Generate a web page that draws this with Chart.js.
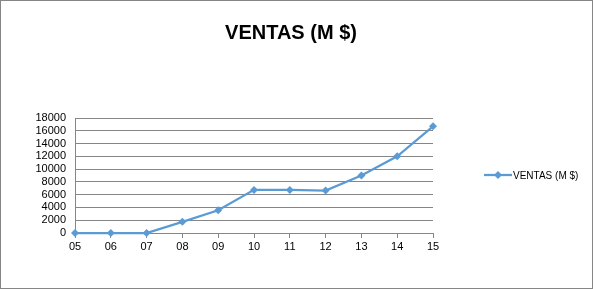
<!DOCTYPE html>
<html>
<head>
<meta charset="utf-8">
<script src="https://cdn.jsdelivr.net/npm/chart.js@4/dist/chart.umd.min.js"></script>
<style>
    body { margin: 0; background: #ffffff; }
    #box { width: 591px; height: 287px; border: 1px solid #868686; position: relative; }
    canvas { display: block; }
</style>
</head>
<body>
<div id="box"><canvas id="plotCanvas" width="591" height="287"></canvas></div>
<script>
var years = ['05', '06', '07', '08', '09', '10', '11', '12', '13', '14', '15'];
var ventas = [0, 0, 0, 1750, 3550, 6750, 6750, 6650, 9000, 12000, 16700];
var seriesName = 'VENTAS (M $)';
var chartTitle = 'VENTAS (M $)';

var lineColor = '#5B9BD5';
var gridColor = '#868686';
var labelFont = '"Liberation Sans", Arial, sans-serif';

// title and legend are drawn by hand, Excel-like
var excelDecor = {
    id: 'excelDecor',
    afterDraw: function(chart) {
        var ctx = chart.ctx;
        ctx.save();
        ctx.fillStyle = '#000000';
        ctx.font = 'bold 20px ' + labelFont;
        ctx.textAlign = 'center';
        ctx.textBaseline = 'middle';
        ctx.fillText(chartTitle, 290, 32);

        // legend entry
        var ly = 174;
        ctx.strokeStyle = lineColor;
        ctx.lineWidth = 2.25;
        ctx.beginPath();
        ctx.moveTo(483, ly);
        ctx.lineTo(511, ly);
        ctx.stroke();
        ctx.fillStyle = lineColor;
        ctx.beginPath();
        ctx.moveTo(497, ly - 4);
        ctx.lineTo(501, ly);
        ctx.lineTo(497, ly + 4);
        ctx.lineTo(493, ly);
        ctx.closePath();
        ctx.fill();
        ctx.fillStyle = '#000000';
        ctx.font = '10px ' + labelFont;
        ctx.textAlign = 'left';
        ctx.fillText(seriesName, 512, ly + 1);
        ctx.restore();
    }
};

var ctx = document.getElementById('plotCanvas').getContext('2d');
var currentChart = new Chart(ctx, {
    type: 'line',
    data: {
        labels: years,
        datasets: [{
            label: seriesName,
            data: ventas,
            borderColor: lineColor,
            backgroundColor: lineColor,
            borderWidth: 2.25,
            pointStyle: 'rectRot',
            pointRadius: 4,
            pointBorderWidth: 0,
            tension: 0,
            clip: false
        }]
    },
    options: {
        responsive: false,
        animation: false,
        layout: {
            padding: { left: 0, right: 159, top: 117, bottom: 0 }
        },
        plugins: {
            legend: { display: false },
            title: { display: false },
            tooltip: { enabled: false }
        },
        scales: {
            x: {
                offset: false,
                grid: {
                    display: true,
                    drawOnChartArea: false,
                    drawTicks: true,
                    tickLength: 5,
                    color: gridColor
                },
                border: { color: gridColor },
                ticks: {
                    color: '#000000',
                    font: { family: labelFont, size: 11 },
                    padding: 2,
                    maxRotation: 0,
                    autoSkip: false
                },
                afterFit: function(scale) { scale.height = 55; }
            },
            y: {
                min: 0,
                max: 18000,
                grid: {
                    color: gridColor,
                    drawTicks: false
                },
                border: { color: gridColor },
                ticks: {
                    stepSize: 2000,
                    autoSkip: false,
                    color: '#000000',
                    font: { family: labelFont, size: 11 },
                    padding: 9,
                    callback: function(value) { return String(value); }
                },
                afterFit: function(scale) { scale.width = 74; }
            }
        }
    },
    plugins: [excelDecor]
});
</script>
</body>
</html>
